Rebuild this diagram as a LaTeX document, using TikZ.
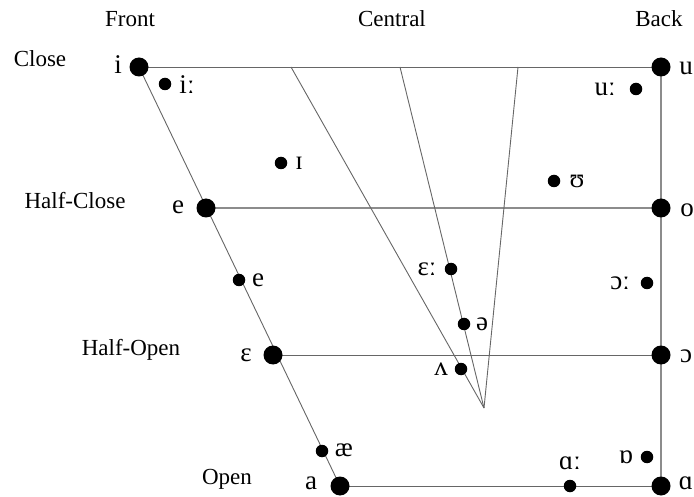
\documentclass[tikz,border=0pt]{standalone}
\usepackage{fontspec}
\setmainfont{Liberation Serif}
\begin{document}
\begin{tikzpicture}[x=1pt,y=-1pt,
  big/.style={circle,fill=black,inner sep=0pt,minimum size=19pt},
  small/.style={circle,fill=black,inner sep=0pt,minimum size=12.5pt},
  ipa/.style={font=\fontsize{27}{29}\selectfont,inner sep=0pt},
  lab/.style={font=\fontsize{23}{26}\selectfont,inner sep=0pt},
  ln/.style={draw=black!60,line width=0.9pt},
  hl/.style={draw=black!45,line width=1.1pt}]
\path[use as bounding box] (0,0) rectangle (694,497);
% column / row labels
\node[lab] (front) at (130,19) {Front};
\node[lab] (central) at (392,19) {Central};
\node[lab] (back) at (659,19) {Back};
\node[lab] (close) at (40,59) {Close};
\node[lab] (halfclose) at (75,201) {Half-Close};
\node[lab] (halfopen) at (131,350) {Half-Open};
\node[lab] (open) at (227,479) {Open};
% cardinal coordinates
\coordinate (ci) at (139,67);
\coordinate (cu) at (661,67);
\coordinate (ce) at (206,208);
\coordinate (co) at (661,208);
\coordinate (ceps) at (273,355);
\coordinate (coo) at (661,355);
\coordinate (ca) at (340,486);
\coordinate (caa) at (661,486);
\coordinate (t1) at (291,67);
\coordinate (t2) at (400,67);
\coordinate (t3) at (518,67);
\coordinate (apex) at (484,408);
% lines
\draw[ln] (ci) -- (cu);
\draw[hl] (ce) -- (co);
\draw[ln] (ceps) -- (coo);
\draw[ln] (ca) -- (caa);
\draw[ln] (ci) -- (ca);
\draw[hl] (cu) -- (caa);
\draw[ln] (t1) -- (apex);
\draw[ln] (t2) -- (apex);
\draw[ln] (t3) -- (apex);
% big dots
\node[big] (di) at (ci) {};
\node[big] (du) at (cu) {};
\node[big] (de) at (ce) {};
\node[big] (do) at (co) {};
\node[big] (deps) at (ceps) {};
\node[big] (doo) at (coo) {};
\node[big] (da) at (ca) {};
\node[big] (daa) at (caa) {};
% small dots
\node[small] (sii) at (165,84) {};
\node[small] (suu) at (636,89) {};
\node[small] (sI) at (281,163) {};
\node[small] (sU) at (554,181) {};
\node[small] (se) at (239,280) {};
\node[small] (sepsl) at (451,269) {};
\node[small] (sool) at (647,283) {};
\node[small] (sschwa) at (464,324) {};
\node[small] (sv) at (461,369) {};
\node[small] (sae) at (322,451) {};
\node[small] (saal) at (570,486) {};
\node[small] (sob) at (647,457) {};
% IPA labels
\node[ipa] (li) at (118,65) {i};
\node[ipa] (lu) at (686,68) {u};
\node[ipa] (le) at (178,207) {e};
\node[ipa] (lo) at (687,210) {o};
\node[ipa] (leps) at (246,355) {ɛ};
\node[ipa] (loo) at (686,356) {ɔ};
\node[ipa] (la) at (311,483) {a};
\node[ipa] (laa) at (686,483) {ɑ};
\node[ipa] (lii) at (187,85) {iː};
\node[ipa] (luu) at (605,89) {uː};
\node[ipa] (lI) at (299,163) {ɪ};
\node[ipa] (lU) at (577,181) {ʊ};
\node[ipa] (lse) at (258,280) {e};
\node[ipa] (lepsl) at (427,269) {ɛː};
\node[ipa] (lool) at (620,283) {ɔː};
\node[ipa] (lschwa) at (482,324) {ə};
\node[ipa] (lv) at (441,369) {ʌ};
\node[ipa] (lae) at (344,450) {æ};
\node[ipa] (laal) at (570,463) {ɑː};
\node[ipa] (lob) at (626,457) {ɒ};
\end{tikzpicture}
\end{document}
